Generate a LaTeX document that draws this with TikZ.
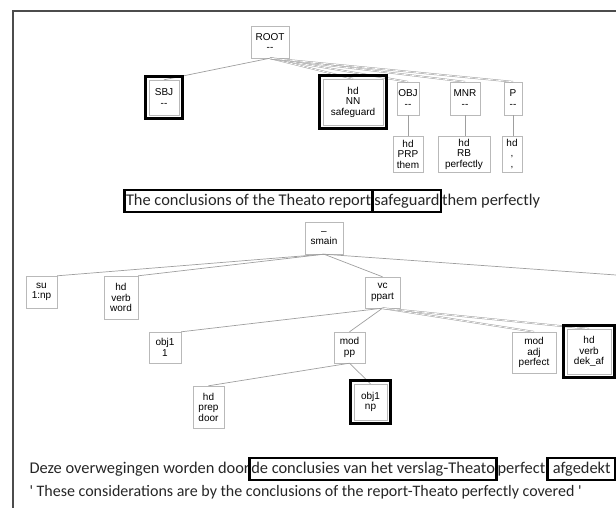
\documentclass[tikz,border=0pt]{standalone}
\usepackage{fontspec}
\setmainfont{Liberation Sans}
\newfontfamily\treefont{Liberation Sans}
\newfontfamily\sentfont{Carlito}
\usepackage{tikz}
\usetikzlibrary{positioning}

\tikzset{
  tnode/.style={draw=gray!55, fill=white, align=center, inner sep=1pt, font=\treefont\fontsize{10}{10.5}\selectfont},
  link/.style={draw=gray!75, line width=0.7pt},
  dlink/.style={draw=gray!75, line width=0.5pt, double=white, double distance=0.7pt},
  hl/.style={draw=black, line width=3pt},
  sent/.style={inner xsep=1pt, inner ysep=3pt, outer sep=0pt, text height=12pt, text depth=4pt, font=\sentfont\fontsize{16.4}{19}\selectfont, text=black!85},
  sbox/.style={sent, draw=black, line width=2.8pt, inner xsep=1.6pt}
}

\begin{document}
\begin{tikzpicture}[x=1pt,y=-1pt]
\useasboundingbox (0,0) rectangle (616,508);
% Frame
\draw[gray!60!black, line width=1.2pt] (13,508) -- (13,11) -- (616,11);

% English tree
\node[tnode, minimum width=38pt, minimum height=32pt] (root) at (270,42) {ROOT\\-{}-};
\node[tnode, minimum width=30pt, minimum height=35pt] (sbj) at (164,97.5) {SBJ\\-{}-};
\node[tnode, minimum width=60pt, minimum height=46pt] (safeg) at (353,102) {hd\\NN\\safeguard};
\node[tnode, minimum width=22pt, minimum height=33pt] (obj) at (408,98.5) {OBJ\\-{}-};
\node[tnode, minimum width=30pt, minimum height=33pt] (mnr) at (465,98.5) {MNR\\-{}-};
\node[tnode, minimum width=18pt, minimum height=33pt] (punct) at (513,98.5) {P\\-{}-};
\node[tnode, minimum width=30pt, minimum height=36pt] (them) at (408,154) {hd\\PRP\\them};
\node[tnode, minimum width=52pt, minimum height=36pt] (perfly) at (464,154) {hd\\RB\\perfectly};
\node[tnode, minimum width=20pt, minimum height=36pt] (comma) at (512,154) {hd\\,\\,};

\draw[link] (root.south) -- (sbj.north);
\foreach \c in {safeg,obj,mnr,punct}
  \draw[dlink] (root.south) -- (\c.north);
\draw[link] (obj.south) -- (obj.south |- them.north);
\draw[link] (mnr.south) -- (mnr.south |- perfly.north);
\draw[link] (punct.south) -- (punct.south |- comma.north);

% English sentence
\node[sbox, anchor=west] (en1) at (124.4,201) {The conclusions of the Theato report};
\node[sbox, right=0pt of en1] (en2) {safeguard};
\node[sent, right=0pt of en2] (en3) {them perfectly};

% Dutch tree
\node[tnode, minimum width=38pt, minimum height=32pt] (smain) at (324,238) {\textendash\\smain};
\node[tnode, minimum width=31pt, minimum height=32pt] (su) at (41.5,292) {su\\1:np};
\node[tnode, minimum width=34pt, minimum height=43pt] (word) at (121,297.5) {hd\\verb\\word};
\node[tnode, minimum width=35pt, minimum height=31pt] (vc) at (382.5,292.5) {vc\\ppart};
\node[tnode, minimum width=32pt, minimum height=31pt] (objone) at (165,347.5) {obj1\\1};
\node[tnode, minimum width=31pt, minimum height=31pt] (modpp) at (349.5,347.5) {mod\\pp};
\node[tnode, minimum width=44pt, minimum height=41pt] (modadj) at (534,352.5) {mod\\adj\\perfect};
\node[tnode, minimum width=44pt, minimum height=45pt] (dekaf) at (589,351.5) {hd\\verb\\dek\_af};
\node[tnode, minimum width=31pt, minimum height=42pt] (door) at (208.5,407) {hd\\prep\\door};
\node[tnode, minimum width=33pt, minimum height=36pt] (objnp) at (370.5,402) {obj1\\np};
\coordinate (offright) at (616,275);

\draw[link] (smain.south) -- (su.north east);
\draw[link] (smain.south) -- (word.north east);
\draw[link] (smain.south) -- (vc.north);
\draw[link] (smain.south) -- (offright);
\draw[link] (vc.south) -- (objone.north east);
\draw[link] (vc.south) -- (modpp.north);
\draw[dlink] (vc.south) -- (modadj.north);
\draw[dlink] (vc.south) -- (dekaf.north);
\draw[link] (modpp.south) -- (door.north);
\draw[link] (modpp.south) -- (objnp.north);

% Aligned constituents
\foreach \n in {sbj,safeg,objnp,dekaf}
  \draw[hl] ([shift={(-3pt,3pt)}]\n.north west) rectangle ([shift={(3pt,-3pt)}]\n.south east);

% Dutch sentence and gloss
\node[sent, anchor=west, inner xsep=0pt] (nl1) at (29.5,469) {Deze overwegingen worden door};
\node[sbox, right=0pt of nl1] (nl2) {de conclusies van het verslag-Theato};
\node[sent, right=0pt of nl2] (nl3) {perfect};
\node[sbox, right=1.5pt of nl3, minimum width=68pt] (nl4) {afgedekt};
\node[sent, anchor=west, inner xsep=0pt, font=\sentfont\fontsize{16}{19}\selectfont] (gloss) at (29.5,492) {\textquotesingle{} These considerations are by the conclusions of the report-Theato perfectly covered \textquotesingle};
\end{tikzpicture}
\end{document}
